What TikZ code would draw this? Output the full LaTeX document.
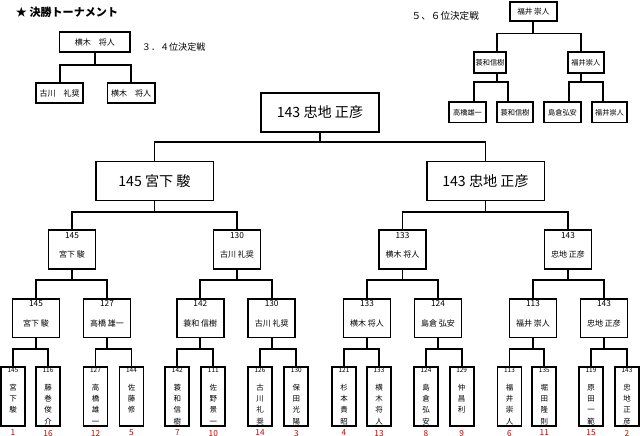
\documentclass[tikz,border=0pt]{standalone}
\usepackage{fontspec}
\setmainfont{Noto Sans CJK JP}
\usetikzlibrary{positioning}
\definecolor{seedred}{RGB}{200,0,0}
\newcommand\leaftxt[2]{\parbox[c][44.2pt][t]{18pt}{\lineskiplimit=-20pt\centering\fontsize{4.8}{5}\selectfont\vspace*{0.4pt}#1\par\vspace{5.1pt}\fontsize{5.6}{8.4}\selectfont #2}}
\newcommand\midtxt[2]{\parbox[c][29pt][t]{35.3pt}{\centering\fontsize{6.2}{7}\selectfont\vspace*{1.5pt}#1\par\vspace{6.5pt}\fontsize{6}{8}\selectfont #2}}
\begin{document}
\begin{tikzpicture}[x=0.75pt, y=-0.75pt, line width=1.4pt,
    box/.style={draw, inner sep=0pt},
    big/.style={draw, minimum width=88.4pt, minimum height=29.3pt, font=\fontsize{10.6}{12}\selectfont},
    small/.style={draw, inner sep=0pt, minimum height=15.3pt, font=\fontsize{5.4}{6}\selectfont},
    seed/.style={text=seedred, inner sep=1.4pt, font=\fontsize{6.2}{7}\selectfont}]
  \useasboundingbox (0,0) rectangle (640,436);
  \node[anchor=west, inner sep=0pt, font=\bfseries\fontsize{8.3}{10}\selectfont] (title) at (15,12.3) {★ 決勝トーナメント};
  \node[font=\fontsize{6.8}{8}\selectfont] (l34) at (173.7,47) {３．４位決定戦};
  \node[font=\fontsize{7.2}{8}\selectfont] (l56) at (445.3,16) {５、６位決定戦};
  \node[small, minimum width=52.9pt, font=\fontsize{6}{7}\selectfont] (p34) at (94.8,42) {横木　将人};
  \node[small, minimum width=35.5pt, font=\fontsize{6}{7}\selectfont] (c34a) at (59.7,93) {古川　礼奨};
  \node[small, minimum width=35.5pt, font=\fontsize{6}{7}\selectfont] (c34b) at (131.2,93) {横木　将人};
  \draw (p34.south) -- ++(0,11.5) -| (c34a.north) (p34.south) -- ++(0,11.5) -| (c34b.north);
  \node[small, minimum width=35pt, minimum height=14.6pt, font=\fontsize{5.7}{6}\selectfont] (p56) at (533.3,11.5) {福井 崇人};
  \node[small, minimum width=24pt] (a56) at (490,62.5) {蓑和信樹};
  \node[small, minimum width=27.2pt] (b56) at (585.8,62.5) {福井崇人};
  \node[small, minimum width=27.3pt] (g1) at (467.5,112.3) {高橋雄一};
  \node[small, minimum width=27.3pt] (g2) at (515,112.3) {蓑和信樹};
  \node[small, minimum width=27.3pt] (g3) at (562.5,112.3) {島倉弘安};
  \node[small, minimum width=26.7pt] (g4) at (609.5,112.3) {福井崇人};
  \draw (p56.south) -- ++(0,11.3) -| ([shift={(6.7,0)}]a56.north) (p56.south) -- ++(0,11.3) -| ([shift={(-5,0)}]b56.north);
  \draw ([shift={(7,0)}]a56.south) -- ++(0,8.3) -| ([shift={(6.5,0)}]g1.north) ([shift={(7,0)}]a56.south) -- ++(0,8.3) -| ([shift={(-6.7,0)}]g2.north);
  \draw ([shift={(-5,0)}]b56.south) -- ++(0,8.3) -| ([shift={(6.3,0)}]g3.north) ([shift={(-5,0)}]b56.south) -- ++(0,8.3) -| ([shift={(-6.2,0)}]g4.north);
  \node[big] (f) at (320,112.5) {143 忠地 正彦};
  \node[big] (s1) at (154.5,181) {145 宮下 駿};
  \node[big] (s2) at (485.5,181) {143 忠地 正彦};
  \node[box] (q1) at (72,249.7) {\midtxt{145}{宮下 駿}};
  \node[box] (q2) at (237,249.7) {\midtxt{130}{古川 礼奨}};
  \node[box] (q3) at (402.5,249.7) {\midtxt{133}{横木 将人}};
  \node[box] (q4) at (568,249.7) {\midtxt{143}{忠地 正彦}};
  \node[box] (r1) at (36,318.2) {\midtxt{145}{宮下 駿}};
  \node[box] (r2) at (107,318.2) {\midtxt{127}{高橋 雄一}};
  \node[box] (r3) at (200.3,318.2) {\midtxt{142}{蓑和 信樹}};
  \node[box] (r4) at (271.7,318.2) {\midtxt{130}{古川 礼奨}};
  \node[box] (r5) at (367,318.2) {\midtxt{133}{横木 将人}};
  \node[box] (r6) at (438,318.2) {\midtxt{124}{島倉 弘安}};
  \node[box] (r7) at (533,318.2) {\midtxt{113}{福井 崇人}};
  \node[box] (r8) at (604,318.2) {\midtxt{143}{忠地 正彦}};
  \node[box] (a1) at (13,396.8) {\leaftxt{145}{宮\\下\\駿}}; \node[seed, below=0pt of a1] (k1) {1};
  \node[box] (a2) at (48,396.8) {\leaftxt{116}{藤\\巻\\俊\\介}}; \node[seed, below=0pt of a2] (k2) {16};
  \node[box] (a3) at (95.5,396.8) {\leaftxt{127}{高\\橋\\雄\\一}}; \node[seed, below=0pt of a3] (k3) {12};
  \node[box] (a4) at (131.5,396.8) {\leaftxt{144}{佐\\藤\\修}}; \node[seed, below=0pt of a4] (k4) {5};
  \node[box] (a5) at (177.3,396.8) {\leaftxt{142}{蓑\\和\\信\\樹}}; \node[seed, below=0pt of a5] (k5) {7};
  \node[box] (a6) at (213.3,396.8) {\leaftxt{111}{佐\\野\\景\\一}}; \node[seed, below=0pt of a6] (k6) {10};
  \node[box] (a7) at (260,396.8) {\leaftxt{126}{古\\川\\礼\\奨}}; \node[seed, below=0pt of a7] (k7) {14};
  \node[box] (a8) at (296.3,396.8) {\leaftxt{130}{保\\田\\光\\陽}}; \node[seed, below=0pt of a8] (k8) {3};
  \node[box] (a9) at (344,396.8) {\leaftxt{121}{杉\\本\\貴\\昭}}; \node[seed, below=0pt of a9] (k9) {4};
  \node[box] (a10) at (379,396.8) {\leaftxt{133}{横\\木\\将\\人}}; \node[seed, below=0pt of a10] (k10) {13};
  \node[box] (a11) at (426,396.8) {\leaftxt{124}{島\\倉\\弘\\安}}; \node[seed, below=0pt of a11] (k11) {8};
  \node[box] (a12) at (461.7,396.8) {\leaftxt{129}{仲\\昌\\利}}; \node[seed, below=0pt of a12] (k12) {9};
  \node[box] (a13) at (509.5,396.8) {\leaftxt{113}{福\\井\\崇\\人}}; \node[seed, below=0pt of a13] (k13) {6};
  \node[box] (a14) at (544.3,396.8) {\leaftxt{135}{堀\\田\\隆\\則}}; \node[seed, below=0pt of a14] (k14) {11};
  \node[box] (a15) at (591,396.8) {\leaftxt{119}{原\\田\\一\\範}}; \node[seed, below=0pt of a15] (k15) {15};
  \node[box] (a16) at (627,396.8) {\leaftxt{143}{忠\\地\\正\\彦}}; \node[seed, below=0pt of a16] (k16) {2};
  \draw (f.south) -- ++(0,9.4) -| (s1.north) (f.south) -- ++(0,9.4) -| (s2.north);
  \draw (s1.south) -- ++(0,10.7) -| (q1.north) (s1.south) -- ++(0,10.7) -| (q2.north);
  \draw (s2.south) -- ++(0,10.7) -| (q3.north) (s2.south) -- ++(0,10.7) -| (q4.north);
  \draw (q1.south) -- ++(0,10) -| (r1.north) (q1.south) -- ++(0,10) -| (r2.north);
  \draw (q2.south) -- ++(0,10) -| (r3.north) (q2.south) -- ++(0,10) -| (r4.north);
  \draw (q3.south) -- ++(0,10) -| (r5.north) (q3.south) -- ++(0,10) -| (r6.north);
  \draw (q4.south) -- ++(0,10) -| (r7.north) (q4.south) -- ++(0,10) -| (r8.north);
  \draw (r1.south) -- ++(0,10.2) -| (a1.north) (r1.south) -- ++(0,10.2) -| (a2.north);
  \draw (r2.south) -- ++(0,10.2) -| (a3.north) (r2.south) -- ++(0,10.2) -| (a4.north);
  \draw (r3.south) -- ++(0,10.2) -| (a5.north) (r3.south) -- ++(0,10.2) -| (a6.north);
  \draw (r4.south) -- ++(0,10.2) -| (a7.north) (r4.south) -- ++(0,10.2) -| (a8.north);
  \draw (r5.south) -- ++(0,10.2) -| (a9.north) (r5.south) -- ++(0,10.2) -| (a10.north);
  \draw (r6.south) -- ++(0,10.2) -| (a11.north) (r6.south) -- ++(0,10.2) -| (a12.north);
  \draw (r7.south) -- ++(0,10.2) -| (a13.north) (r7.south) -- ++(0,10.2) -| (a14.north);
  \draw (r8.south) -- ++(0,10.2) -| (a15.north) (r8.south) -- ++(0,10.2) -| (a16.north);
\end{tikzpicture}
\end{document}
